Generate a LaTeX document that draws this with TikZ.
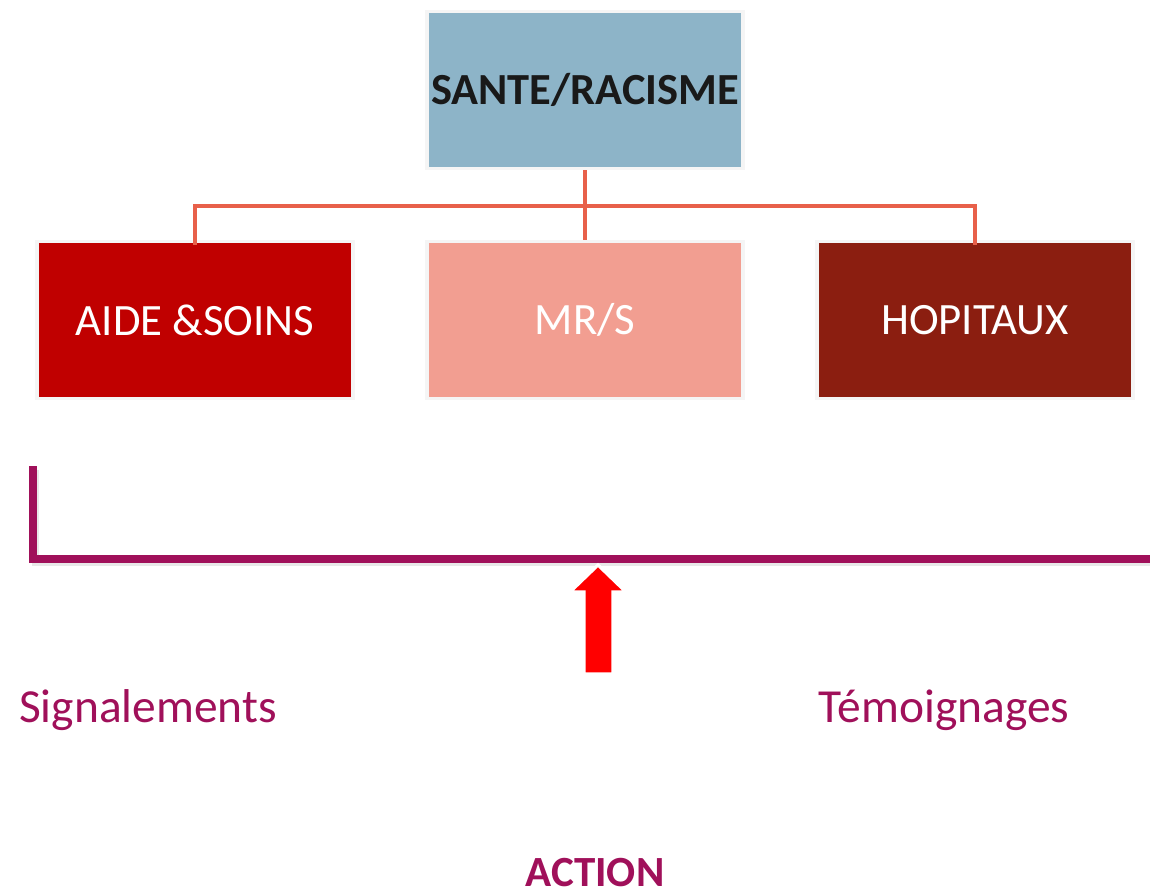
\documentclass[tikz,border=0pt]{standalone}
\usepackage{fontspec}
\setmainfont{Carlito}
\usepackage{tikz}
\usetikzlibrary{positioning}

\definecolor{topblue}{HTML}{8DB4C8}
\definecolor{linkred}{HTML}{E8604A}
\definecolor{aidered}{HTML}{C00000}
\definecolor{mrspink}{HTML}{F29E91}
\definecolor{hopbrown}{HTML}{8B1E10}
\definecolor{actpurple}{HTML}{A0105A}

\tikzset{
  box/.style={draw=black!4, line width=2pt, minimum width=180pt, minimum height=89.5pt,
    inner sep=0pt, text=white, font=\fontsize{25.5}{30}\selectfont},
  link/.style={draw=linkred, line width=2.4pt},
  lbl/.style={text=actpurple, font=\fontsize{27}{32}\selectfont},
}

\begin{document}
\begin{tikzpicture}[x=0.02cm, y=-0.02cm]
   \useasboundingbox[fill=white] (0,0) rectangle (1150,896);

   % top box and the three boxes below
   \node[box, fill=topblue, text=black!90, font=\bfseries\fontsize{25.3}{30}\selectfont] (top) at (585,90) {SANTE/RACISME};
   \node[box, fill=aidered] (aide) at (195,320) {AIDE \&SOINS};
   \node[box, fill=mrspink] (mrs) at (585,320) {MR/S};
   \node[box, fill=hopbrown] (hop) at (975,320) {HOPITAUX};

   \coordinate (bar) at (585,206);
   \draw[link] (top.south) -- (mrs.north);
   \draw[link] ([yshift=-3pt]aide.north) -- (aide.north |- bar) -- (hop.north |- bar) -- ([yshift=-3pt]hop.north);

   % bracket
   \coordinate (bl) at (33,466);
   \coordinate (bc) at (33,559);
   \coordinate (br) at (1152,559);
   \draw[black!9, line width=4pt] ([xshift=1.5pt,yshift=-2pt]bl) -- ([xshift=1.5pt,yshift=-2pt]bc) -- ([yshift=-2pt]br);
   \draw[actpurple, line width=4.3pt] (bl) -- (bc) -- (br);

   % arrow
   \coordinate (tip) at (598,565);
   \filldraw[fill=red, draw=white, line width=1.8pt, line join=miter]
     (tip) -- ++(28,27) -- ++(-13,0) -- ++(0,82) -- ++(-29,0) -- ++(0,-82) -- ++(-14,0) -- cycle;

   \node[lbl] (sig) at (148,710) {Signalements};
   \node[lbl] (tem) at (944,710) {Témoignages};
   \node[lbl, inner sep=0pt, font=\bfseries\fontsize{24.5}{29}\selectfont] (act) at (595,873) {ACTION};
\end{tikzpicture}
\end{document}
